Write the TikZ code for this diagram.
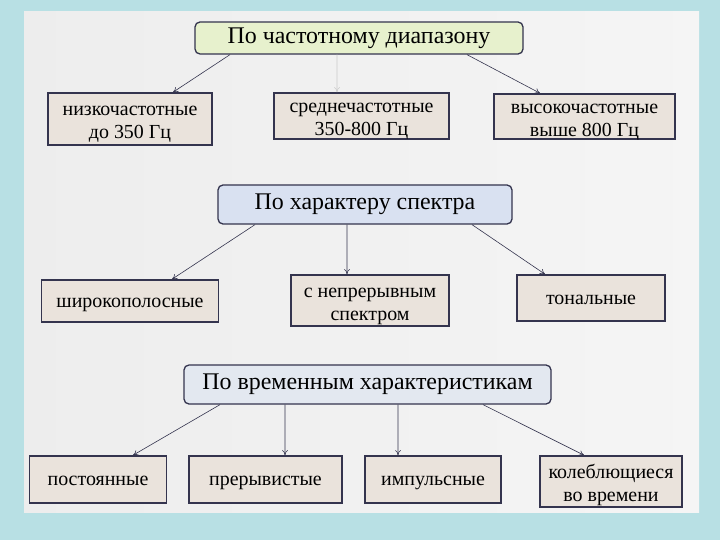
\documentclass[tikz,border=0pt]{standalone}
\usepackage{fontspec}
\setmainfont{Liberation Serif}
\usetikzlibrary{arrows.meta}
\definecolor{frameteal}{RGB}{184,224,228}
\definecolor{headgreen}{RGB}{231,241,205}
\definecolor{headblue}{RGB}{217,225,241}
\definecolor{headgray}{RGB}{227,232,240}
\definecolor{leafbeige}{RGB}{234,227,220}
\definecolor{edgenavy}{RGB}{52,52,78}
\newcommand{\twoline}[2]{\begin{tabular}{@{}c@{}}#1\\#2\end{tabular}}
\tikzset{
  link/.style={-{To[length=1.8mm,width=2mm]},draw=edgenavy,line width=0.6pt},
  faint/.style={link,draw=gray!40},
  head/.style={draw=edgenavy,line width=1.3pt,rounded corners=5pt,inner sep=0pt,
               align=center,font=\fontsize{24}{26}\selectfont},
  leaf/.style={draw=edgenavy,line width=1.6pt,fill=leafbeige,inner sep=0pt,
               align=center,font=\fontsize{20}{23}\selectfont,text height=16bp,text depth=4bp},
  pair/.style={leaf,text height=31bp,text depth=13bp},
}

\begin{document}
\begin{tikzpicture}[x=1bp,y=-1bp]
  \fill[frameteal] (0,0) rectangle (720,540);
  \shade[left color=gray!14,middle color=white,right color=gray!8] (24,12) rectangle (699,512);

  % frequency range
  \node[head,fill=headgreen,minimum width=328bp,minimum height=32bp] (FREQ) at (359,38)
    {По частотному диапазону};
  \node[pair,minimum width=164bp,minimum height=52bp] (LOW) at (130,119)
    {\twoline{низкочастотные}{до 350 Гц}};
  \node[pair,minimum width=175bp,minimum height=46bp] (MID) at (361.5,116)
    {\twoline{среднечастотные}{350-800 Гц}};
  \node[pair,minimum width=181bp,minimum height=45bp] (HIGH) at (584.5,116.5)
    {\twoline{высокочастотные}{выше 800 Гц}};
  \draw[link] ([xshift=-129bp]FREQ.south) -- ([xshift=43bp]LOW.north);
  \draw[faint] ([xshift=-22bp]FREQ.south) -- ([xshift=-24.5bp]MID.north);
  \draw[link] ([xshift=108bp]FREQ.south) -- ([xshift=-44.5bp]HIGH.north);

  % spectrum
  \node[head,fill=headblue,minimum width=294bp,minimum height=39bp] (SPEC) at (365,204.5)
    {По характеру спектра};
  \node[leaf,minimum width=177bp,minimum height=42bp] (WIDE) at (130,301)
    {широкополосные};
  \node[pair,minimum width=158bp,minimum height=51bp] (CONT) at (370,300.5)
    {\twoline{с непрерывным}{спектром}};
  \node[leaf,minimum width=148bp,minimum height=46bp] (TONE) at (591,298)
    {тональные};
  \draw[link] ([xshift=-110bp]SPEC.south) -- ([xshift=42bp]WIDE.north);
  \draw[link] ([xshift=-18bp]SPEC.south) -- ([xshift=-23bp]CONT.north);
  \draw[link] ([xshift=107bp]SPEC.south) -- ([xshift=-46bp]TONE.north);

  % time characteristics
  \node[head,fill=headgray,minimum width=367bp,minimum height=39bp] (TIME) at (367.5,384.5)
    {По временным характеристикам};
  \node[leaf,minimum width=137bp,minimum height=47bp] (CONST) at (98,479.5)
    {постоянные};
  \node[leaf,minimum width=153bp,minimum height=47bp] (INTER) at (265.5,479.5)
    {прерывистые};
  \node[leaf,minimum width=136bp,minimum height=47bp] (PULSE) at (433,479.5)
    {импульсные};
  \node[pair,minimum width=142bp,minimum height=51bp] (OSC) at (611,481.5)
    {\twoline{колеблющиеся}{во времени}};
  \draw[link] ([xshift=-147.5bp]TIME.south) -- ([xshift=35bp]CONST.north);
  \draw[link] ([xshift=-82.5bp]TIME.south) -- ([xshift=19.5bp]INTER.north);
  \draw[link] ([xshift=30.5bp]TIME.south) -- ([xshift=-35bp]PULSE.north);
  \draw[link] ([xshift=115.5bp]TIME.south) -- ([xshift=-27bp]OSC.north);
\end{tikzpicture}
\end{document}
